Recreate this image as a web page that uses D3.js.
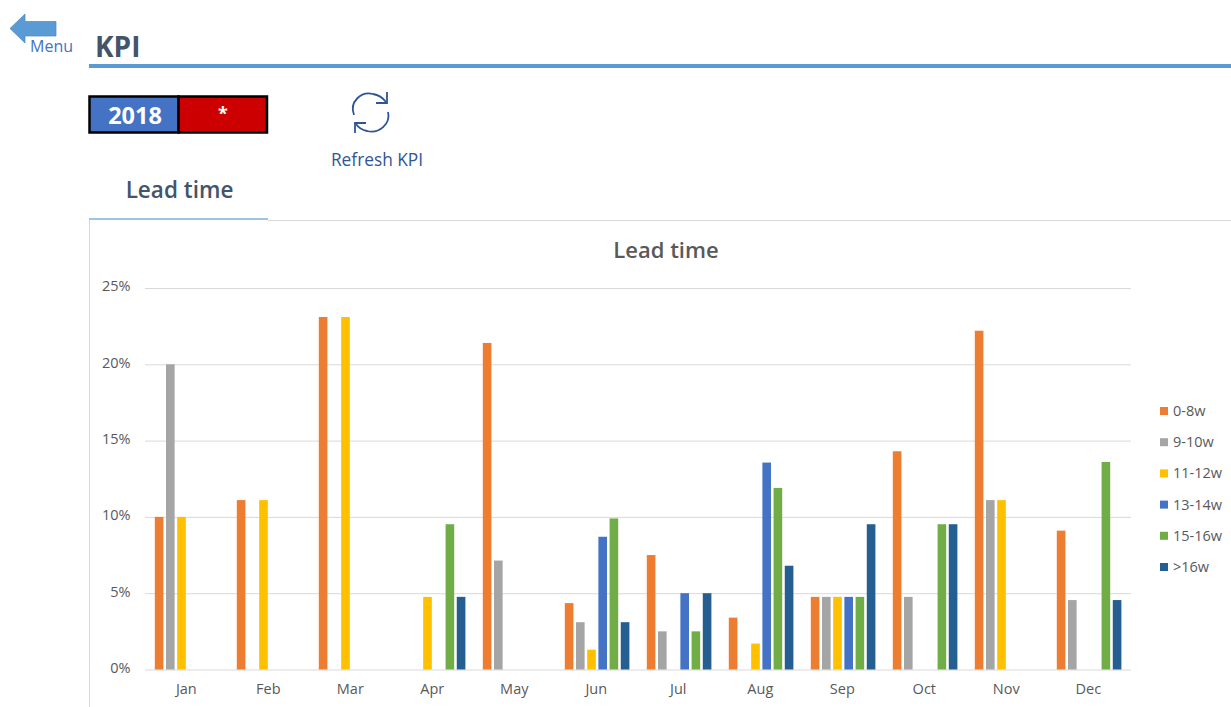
<!DOCTYPE html>
<html><head><meta charset="utf-8">
<script src="https://cdnjs.cloudflare.com/ajax/libs/d3/7.8.5/d3.min.js"></script>
<style>html,body{margin:0;padding:0;background:#fff;overflow:hidden}svg{display:block}
text{font-family:"Open Sans","Noto Sans",sans-serif}
.tick line{stroke:#d9d9d9;stroke-width:1}.tick text{fill:#595959;font-size:14.5px}.domain{display:none}</style>
</head><body><svg id="c" width="1231" height="707"></svg>
<script>
const months=["Jan","Feb","Mar","Apr","May","Jun","Jul","Aug","Sep","Oct","Nov","Dec"];
const seriesNames=["0-8w","9-10w","11-12w","13-14w","15-16w",">16w"];
const seriesColors=["#ed7d31","#a5a5a5","#ffc000","#4472c4","#70ad47","#255e91"];
const s0to8=[10,11.1,23.1,0,21.4,4.35,7.5,3.4,4.76,14.3,22.2,9.1];
const s9to10=[20,0,0,0,7.14,3.1,2.5,0,4.76,4.76,11.1,4.55];
const s11to12=[10,11.1,23.1,4.76,0,1.3,0,1.7,4.76,0,11.1,0];
const s13to14=[0,0,0,0,0,8.7,5,13.56,4.76,0,0,0];
const s15to16=[0,0,0,9.52,0,9.9,2.5,11.9,4.76,9.52,0,13.6];
const s16plus=[0,0,0,4.76,0,3.1,5,6.8,9.52,9.52,0,4.55];
const yTicks=[0,5,10,15,20,25];
const allSeries=[s0to8,s9to10,s11to12,s13to14,s15to16,s16plus];

const svg=d3.select("#c");
const x=d3.scaleBand().domain(months).range([146.3,1130.3]);
const xs=d3.scaleBand().domain(seriesNames).range([8.5,73.1]).paddingInner(0.23).paddingOuter(0);
const y=d3.scaleLinear().domain([0,25]).range([669.5,288]);

// page chrome
svg.append("path").attr("d","M10 28.5L25 14V21.5H56V36H25V43Z").attr("fill","#5b9bd5").attr("stroke","#4a86bd").attr("stroke-width",.7);
svg.append("text").attr("x",30).attr("y",52).attr("font-size",16).attr("fill","#4472c4").text("Menu");
svg.append("text").attr("x",95).attr("y",57).attr("font-size",28).attr("font-weight",700).attr("fill","#44546a").text("KPI");
svg.append("rect").attr("x",89).attr("y",64).attr("width",1142).attr("height",4).attr("fill","#5b9bd5");
svg.append("rect").attr("x",89.5).attr("y",96.5).attr("width",89).attr("height",36).attr("fill","#4472c4").attr("stroke","#000").attr("stroke-width",2.5);
svg.append("rect").attr("x",178.5).attr("y",96.5).attr("width",88.5).attr("height",36).attr("fill","#cc0000").attr("stroke","#000").attr("stroke-width",2.5);
svg.append("text").attr("x",135).attr("y",124).attr("text-anchor","middle").attr("font-size",23.5).attr("font-weight",700).attr("fill","#fff").text("2018");
svg.append("text").attr("x",223).attr("y",120).attr("text-anchor","middle").attr("font-size",18).attr("font-weight",700).attr("fill","#fff").text("*");
const ic=svg.append("g").attr("fill","none").attr("stroke","#2f5597").attr("stroke-width",1.8);
ic.append("path").attr("d","M354 115C349 102 361 91 373 94C379 95 383 98 386 102");
ic.append("path").attr("d","M387 92V103H376");
ic.append("path").attr("d","M388 112C391 124 379 134 367 131C362 130 358 127 356 124");
ic.append("path").attr("d","M355 133V123H366");
svg.append("text").attr("x",377).attr("y",166).attr("text-anchor","middle").attr("font-size",17.3).attr("fill","#2f5597").text("Refresh KPI");
svg.append("text").attr("x",179.5).attr("y",198).attr("text-anchor","middle").attr("font-size",22.5).attr("font-weight",600).attr("fill","#44546a").text("Lead time");
svg.append("rect").attr("x",268).attr("y",220).attr("width",963).attr("height",1).attr("fill","#d9d9d9");
svg.append("rect").attr("x",89).attr("y",218).attr("width",179).attr("height",2).attr("fill","#9dc3e6");
svg.append("rect").attr("x",89).attr("y",220).attr("width",1).attr("height",487).attr("fill","#d9d9d9");

// title
svg.append("text").attr("x",666).attr("y",258).attr("text-anchor","middle").attr("font-size",22).attr("font-weight",600).attr("fill","#595959").text("Lead time");

// axes
const ya=svg.append("g").attr("transform","translate(145,0)")
 .call(d3.axisLeft(y).tickValues(yTicks).tickSize(-986).tickPadding(14.5).tickFormat(d=>d+"%"));
ya.selectAll(".tick text").attr("dy","0.2em");
const xa=svg.append("g").attr("transform","translate(-1,670)")
 .call(d3.axisBottom(x).tickSize(0).tickPadding(14));

// bars
const groups=svg.append("g").selectAll("g").data(seriesNames).join("g").attr("fill",(d,i)=>seriesColors[i]);
groups.selectAll("rect").data((d,i)=>allSeries[i].map((v,m)=>({s:d,v,m:months[m]}))).join("rect")
 .filter(d=>d.v>0)
 .attr("x",d=>x(d.m)+xs(d.s)).attr("width",xs.bandwidth())
 .attr("y",d=>y(d.v)).attr("height",d=>y(0)-y(d.v));

// legend
const ly=d3.scalePoint().domain(seriesNames).range([411,567]);
const lg=svg.append("g").selectAll("g").data(seriesNames).join("g").attr("transform",d=>`translate(1160,${ly(d)})`);
lg.append("rect").attr("x",0).attr("y",-4).attr("width",8).attr("height",8).attr("fill",(d,i)=>seriesColors[i]);
lg.append("text").attr("x",13).attr("y",5).attr("font-size",14.5).attr("fill","#595959").text(d=>d);
</script></body></html>
